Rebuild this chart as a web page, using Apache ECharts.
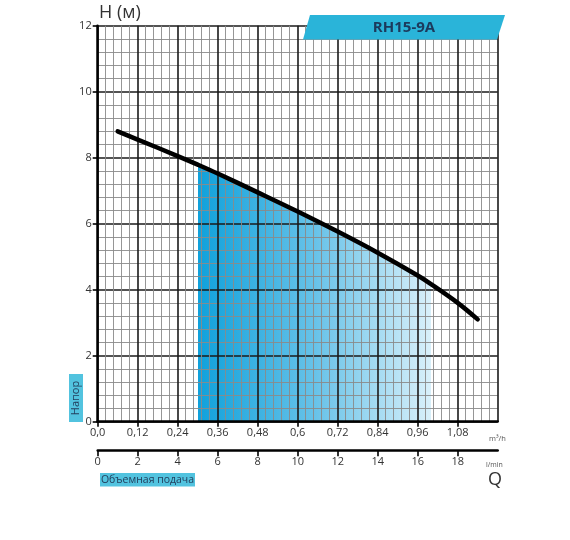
<!DOCTYPE html>
<html>
<head>
<meta charset="utf-8">
<script src="https://cdn.jsdelivr.net/npm/echarts@6/dist/echarts.min.js"></script>
<style>
html,body{margin:0;padding:0;background:#fff;}
#c{width:570px;height:540px;}
</style>
</head>
<body>
<div id="c"></div>
<script>
// Data
var flowM3h = [0.06, 0.12, 0.24, 0.30, 0.36, 0.48, 0.60, 0.72, 0.84, 0.96, 1.00, 1.08, 1.14];
var headM   = [8.80, 8.55, 8.05, 7.79, 7.52, 6.95, 6.37, 5.76, 5.12, 4.43, 4.17, 3.60, 3.10];
var fillRange = [0.30, 1.00];
var xTickLabels = ['0,0','0,12','0,24','0,36','0,48','0,6','0,72','0,84','0,96','1,08',''];
var lminTickLabels = ['0','2','4','6','8','10','12','14','16','18',''];
var yTickLabels = ['0','2','4','6','8','10','12'];
var modelName = 'RH15-9A';

var curve = flowM3h.map(function(q,i){return [q, headM[i]];});
var FONT = '"Open Sans", "Noto Sans", sans-serif';

var chart = echarts.init(document.getElementById('c'), null, {renderer:'canvas'});

var majorLine = {show:true, lineStyle:{color:'#1a1a1a', width:1.6}};
var minorLine = {show:true, lineStyle:{color:'#8a8a8a', width:0.9}};

function buildOption(fillColor){
  return {
    animation:false,
    backgroundColor:'#fff',
    grid:{left:97.7, right:72.3, top:25.7, bottom:118.3, containLabel:false},
    xAxis:[{
      type:'value', min:0, max:1.2, interval:0.12, z:1,
      axisLine:{show:true, onZero:false, lineStyle:{color:'#000', width:2.5}},
      axisTick:{show:true, length:5, lineStyle:{color:'#000', width:1.6}},
      axisLabel:{margin:6, color:'#333', fontSize:11, fontFamily:FONT, showMaxLabel:false,
        formatter:function(v){return xTickLabels[Math.round(v/0.12)] || '';}},
      splitLine:majorLine,
      minorTick:{show:false, splitNumber:5},
      minorSplitLine:minorLine
    },{
      type:'value', min:0, max:20, interval:2, position:'bottom', offset:28.5, z:1,
      axisLine:{show:true, onZero:false, lineStyle:{color:'#000', width:2.5}},
      axisTick:{show:true, length:6, lineStyle:{color:'#000', width:1.6}},
      axisLabel:{margin:6, color:'#333', fontSize:11, fontFamily:FONT, showMaxLabel:false,
        formatter:function(v){return lminTickLabels[Math.round(v/2)] || '';}},
      splitLine:{show:false}
    }],
    yAxis:{
      type:'value', min:0, max:12, interval:2, z:1,
      axisLine:{show:true, onZero:false, lineStyle:{color:'#000', width:2.5}},
      axisTick:{show:true, length:5, lineStyle:{color:'#000', width:1.6}},
      axisLabel:{margin:6, color:'#333', fontSize:11, fontFamily:FONT,
        formatter:function(v){return yTickLabels[Math.round(v/2)];}},
      splitLine:majorLine,
      minorTick:{show:false, splitNumber:5},
      minorSplitLine:minorLine
    },
    series:[{
      type:'line', data:curve, smooth:0.35, symbol:'none', z:0,
      lineStyle:{width:0, opacity:0},
      areaStyle:{color:fillColor, opacity:1}
    },{
      type:'line', data:curve, smooth:0.35, symbol:'none', z:3,
      lineStyle:{color:'#000', width:4.5, cap:'round'}
    }],
    graphic:[
      {type:'polygon', z:10, shape:{points:[[310,15],[505,15],[497,39.5],[303,39.5]]}, style:{fill:'#2ab4d9'}},
      {type:'text', z:11, x:404, y:28, style:{text:modelName, fill:'#1c3a5c', font:'bold 15px ' + FONT, align:'center', verticalAlign:'middle'}},
      {type:'text', z:11, x:99, y:13, style:{text:'H (м)', fill:'#333', font:'18px ' + FONT, verticalAlign:'middle'}},
      {type:'rect', z:10, shape:{x:69, y:374, width:14, height:48}, style:{fill:'#52c3df'}},
      {type:'text', z:11, x:76, y:398, rotation:Math.PI/2, style:{text:'Напор', fill:'#23405e', font:'11px ' + FONT, align:'center', verticalAlign:'middle'}},
      {type:'rect', z:10, shape:{x:100, y:473, width:95, height:13.5}, style:{fill:'#52c3df'}},
      {type:'text', z:11, x:147.5, y:479.8, style:{text:'Объемная подача', fill:'#23405e', font:'10.5px ' + FONT, align:'center', verticalAlign:'middle'}},
      {type:'text', z:11, x:489, y:439, style:{text:'m³/h', fill:'#555', font:'7.5px ' + FONT, verticalAlign:'middle'}},
      {type:'text', z:11, x:486, y:464.5, style:{text:'l/min', fill:'#555', font:'7px ' + FONT, verticalAlign:'middle'}},
      {type:'text', z:11, x:488, y:480, style:{text:'Q', fill:'#333', font:'18px ' + FONT, verticalAlign:'middle'}}
    ]
  };
}

chart.setOption(buildOption('rgba(0,0,0,0)'));
var p0 = chart.convertToPixel({xAxisIndex:0}, 0);
var pMax = chart.convertToPixel({xAxisIndex:0}, 1.2);
var a = (chart.convertToPixel({xAxisIndex:0}, fillRange[0]) - p0)/(pMax - p0);
var b = (chart.convertToPixel({xAxisIndex:0}, fillRange[1]) - p0)/(pMax - p0);
var grad = {
  type:'linear', x:p0, y:0, x2:pMax, y2:0, global:true,
  colorStops:[
    {offset:0, color:'rgba(255,255,255,0)'},
    {offset:a, color:'rgba(255,255,255,0)'},
    {offset:a, color:'#10a1db'},
    {offset:a+(b-a)*0.5, color:'#67c2e8'},
    {offset:b, color:'#d9f0fa'},
    {offset:b, color:'rgba(255,255,255,0)'},
    {offset:1, color:'rgba(255,255,255,0)'}
  ]
};
chart.setOption({series:[{areaStyle:{color:grad, opacity:1}}, {}]});
</script>
</body>
</html>
